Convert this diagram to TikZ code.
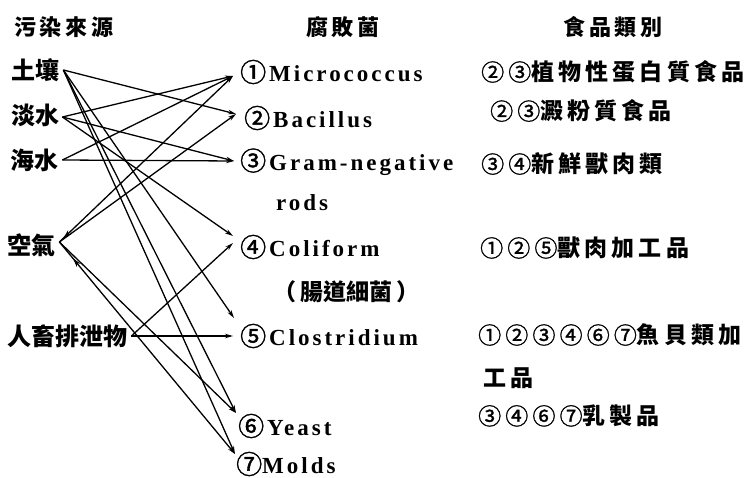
\documentclass[tikz,border=0pt]{standalone}
\usepackage{fontspec}
\setmainfont{Liberation Serif}
\newfontfamily\cjk{Noto Sans CJK TC}
\newfontfamily\cjkdg{Noto Sans CJK TC}[FakeBold=1.5]
\newfontfamily\cjkdgsp{Noto Sans CJK TC}[FakeBold=1.2,LetterSpace=18]
\newfontfamily\cjksp{Noto Sans CJK TC}[LetterSpace=18]
\newfontfamily\latinsp{Liberation Serif}[LetterSpace=13]
\newcommand\cdg[1]{{\cjkdg\mdseries\fontsize{26}{26}\selectfont #1}}
\newcommand\fdg[1]{{\cjkdgsp\mdseries #1}}
\usetikzlibrary{arrows.meta,decorations.markings}
\begin{document}
\begin{tikzpicture}[x=1pt,y=-1pt,
  hdr/.style={font=\cjksp\bfseries\fontsize{22}{22}\selectfont, inner sep=0pt},
  src/.style={font=\cjk\bfseries\fontsize{24}{24}\selectfont, inner sep=0pt, anchor=west},
  bac/.style={font=\latinsp\bfseries\fontsize{23}{23}\selectfont, inner sep=0pt, anchor=west},
  food/.style={font=\cjksp\bfseries\fontsize{23}{23}\selectfont, inner sep=0pt, anchor=west},
  link/.style={line width=1.3pt, -{Stealth[length=8pt,width=4.5pt]}},
  backmark/.style={postaction={decorate, decoration={markings,
     mark=at position #1 with {\arrow{Stealth[length=9pt,width=5pt,reversed]}}}}}
]
\useasboundingbox[fill=white] (0,0) rectangle (752,478);

% headers
\node[hdr] (h1) at (64,27) {污染來源};
\node[hdr] (h2) at (343,27) {腐敗菌};
\node[hdr] (h3) at (613,27) {食品類別};

% sources
\node[src] (soil)  at (11,70)  {土壤};
\node[src] (fresh) at (11,115) {淡水};
\node[src] (sea)   at (10,160) {海水};
\node[src] (air)   at (7,245)  {空氣};
\node[src] (feces) at (7,336)  {人畜排泄物};

% bacteria
\node[bac] (b1) at (240,72)  {\cdg{①}\hspace{3pt}Micrococcus};
\node[bac] (b2) at (244,118) {\cdg{②}\hspace{3pt}Bacillus};
\node[bac] (b3) at (240,162) {\cdg{③}\hspace{3pt}Gram-negative};
\node[bac] (rods) at (276,203) {rods};
\node[bac] (b4) at (240,247) {\cdg{④}\hspace{3pt}Coliform};
\node[bac] (b4b) at (273,292) {{\cjk （\hspace{4pt}腸道細菌\hspace{4pt}）}};
\node[bac] (b5) at (240,336) {\cdg{⑤}\hspace{3pt}Clostridium};
\node[bac] (b6) at (238,426) {\cdg{⑥}\hspace{3pt}Yeast};
\node[bac] (b7) at (236,464) {\cdg{⑦}Molds};

% foods
\node[food] (f1) at (481,72)  {\fdg{②③}植物性蛋白質食品};
\node[food] (f2) at (490,111) {\fdg{②③}澱粉質食品};
\node[food] (f3) at (481,164) {\fdg{③④}新鮮獸肉類};
\node[food] (f4) at (480,248) {\fdg{①②⑤}獸肉加工品};
\node[food] (f5) at (478,335) {\fdg{①②③④⑥⑦}魚貝類加};
\node[food] (f6) at (483,378) {工品};
\node[food] (f7) at (478,416) {\fdg{③④⑥⑦}乳製品};

% arrow targets
\coordinate (t1) at (233,76);
\coordinate (t2) at (236,114);
\coordinate (t3) at (234,161);
\coordinate (t4a) at (233,236);
\coordinate (t4b) at (233,243);
\coordinate (t5) at (233,336);
\coordinate (t5b) at (234,318);
\coordinate (t6) at (236,413);
\coordinate (t7) at (235,454);

% connectors
\draw[link] ([xshift=4pt]soil.east) -- (t2);
\draw[link] ([xshift=4pt]soil.east) -- (t5b);
\draw[link] ([xshift=4pt]soil.east) -- (t6);
\draw[link] ([xshift=4pt]soil.east) -- (t7);
\draw[link] ([xshift=3pt,yshift=-2pt]fresh.east) -- (t1);
\draw[link] ([xshift=3pt,yshift=-2pt]fresh.east) -- (t3);
\draw[link] ([xshift=3pt,yshift=-2pt]fresh.east) -- (t4a);
\draw[link] ([xshift=4pt]sea.east) -- (t1);
\draw[link] ([xshift=4pt]sea.east) -- (t3);
\draw[link,backmark=0.06] ([xshift=4pt,yshift=3pt]air.east) -- (t1);
\draw[link] ([xshift=4pt,yshift=3pt]air.east) -- (t2);
\draw[link] ([xshift=4pt,yshift=3pt]air.east) -- (t6);
\draw[link,backmark=0.11] ([xshift=4pt,yshift=3pt]air.east) -- (t7);
\draw[link] ([xshift=4pt]feces.east) -- (t4b);
\draw[link] ([xshift=4pt]feces.east) -- (t5);
\end{tikzpicture}
\end{document}
